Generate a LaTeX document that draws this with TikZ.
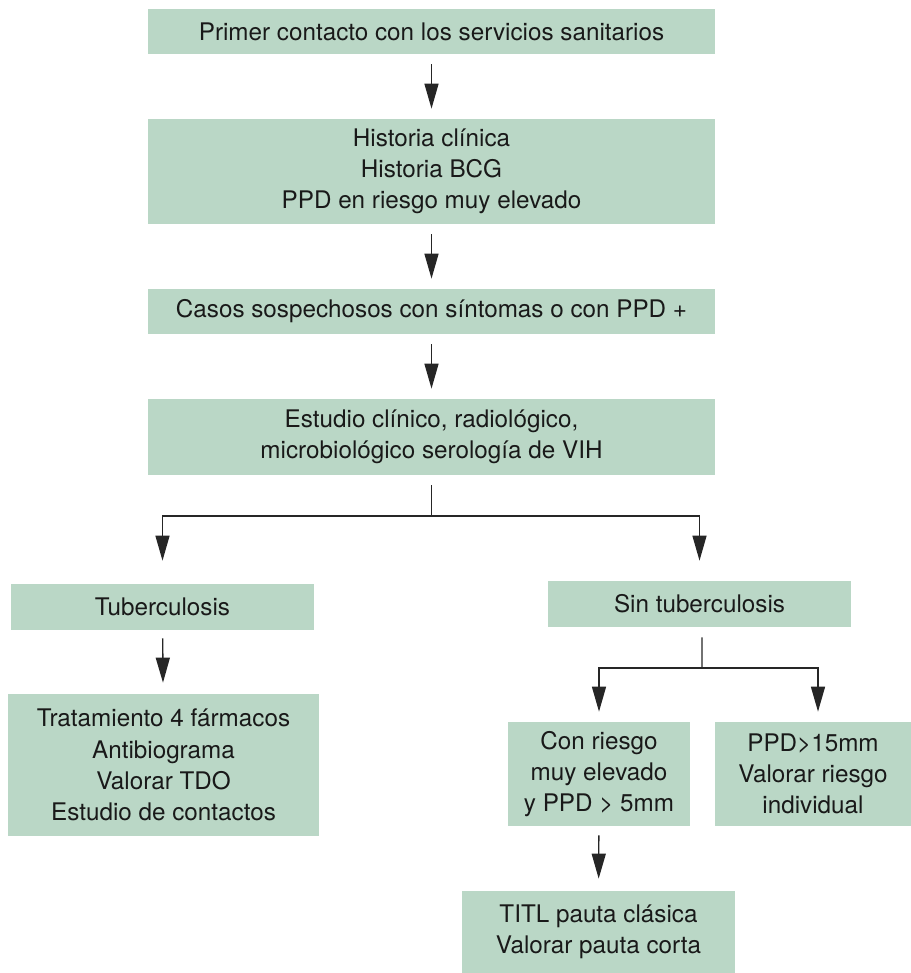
\documentclass[tikz,border=0pt]{standalone}
\usepackage{fontspec}
\setmainfont{TeX Gyre Heros}
\usetikzlibrary{arrows.meta}
\definecolor{boxgreen}{HTML}{BAD7C6}

\begin{document}
\begin{tikzpicture}[x=0.02cm,y=-0.02cm]
\tikzset{
  flowbox/.style={fill=boxgreen,draw=none,align=center,inner sep=0pt,font=\fontsize{13.8pt}{17.8pt}\selectfont,text=black!90},
  flowline/.style={draw=black!85,line width=0.8pt},
  flowarrow/.style={flowline,-{Triangle[length=5mm,width=2.8mm]}}
}
\useasboundingbox (0,0) rectangle (911,973);
\node[flowbox,minimum width=11.34cm,minimum height=0.9cm] (n_primer) at (431.5,31.5) {Primer contacto con los servicios sanitarios};
\node[flowbox,minimum width=11.34cm,minimum height=2.1cm] (n_historia) at (431.5,171.5) {Historia clínica\\Historia BCG\\PPD en riesgo muy elevado};
\node[flowbox,minimum width=11.34cm,minimum height=0.9cm] (n_casos) at (431.5,311.5) {Casos sospechosos con síntomas o con PPD +};
\node[flowbox,minimum width=11.34cm,minimum height=1.52cm] (n_estudio) at (431.5,437) {Estudio clínico, radiológico,\\microbiológico serología de VIH};
\node[flowbox,minimum width=6.06cm,minimum height=0.92cm] (n_tb) at (162.5,607) {Tuberculosis};
\node[flowbox,minimum width=6.06cm,minimum height=0.92cm] (n_sintb) at (699.5,604) {Sin tuberculosis};
\node[flowbox,minimum width=6.22cm,minimum height=2.84cm] (n_trat) at (163.5,765) {Tratamiento 4 fármacos\\Antibiograma\\Valorar TDO\\Estudio de contactos};
\node[flowbox,minimum width=3.64cm,minimum height=2.08cm] (n_riesgo) at (599,774) {Con riesgo\\muy elevado\\y PPD > 5mm};
\node[flowbox,minimum width=3.92cm,minimum height=2.08cm] (n_ppd) at (813,774) {PPD>15mm\\Valorar riesgo\\individual};
\node[flowbox,minimum width=5.46cm,minimum height=1.64cm] (n_titl) at (598.5,932) {TITL pauta clásica\\Valorar pauta corta};
\coordinate (s_estudio) at (431.5,516);
\coordinate (s_sintb) at (702,668);
\draw[flowarrow,shorten <=0.2cm,shorten >=0.2cm] (n_primer) -- (n_historia);
\draw[flowarrow,shorten <=0.2cm,shorten >=0.2cm] (n_historia) -- (n_casos);
\draw[flowarrow,shorten <=0.2cm,shorten >=0.2cm] (n_casos) -- (n_estudio);
\draw[flowline,shorten <=0.2cm] (n_estudio) -- (s_estudio);
\draw[flowarrow,shorten >=0.46cm] (s_estudio) -| (n_tb.north);
\draw[flowarrow,shorten >=0.4cm] (s_estudio) -| (n_sintb.north);
\draw[flowarrow,shorten <=0.16cm,shorten >=0.22cm] (n_tb) -- (n_trat);
\draw[flowline,shorten <=0.2cm] ([xshift=0.05cm]n_sintb.south) -- (s_sintb);
\draw[flowarrow,shorten >=0.2cm] (s_sintb) -| (n_riesgo.north);
\draw[flowarrow,shorten >=0.2cm] (s_sintb) -| ([xshift=0.1cm]n_ppd.north);
\draw[flowarrow,shorten <=0.18cm,shorten >=0.24cm] (n_riesgo) -- (n_titl);
\end{tikzpicture}
\end{document}
